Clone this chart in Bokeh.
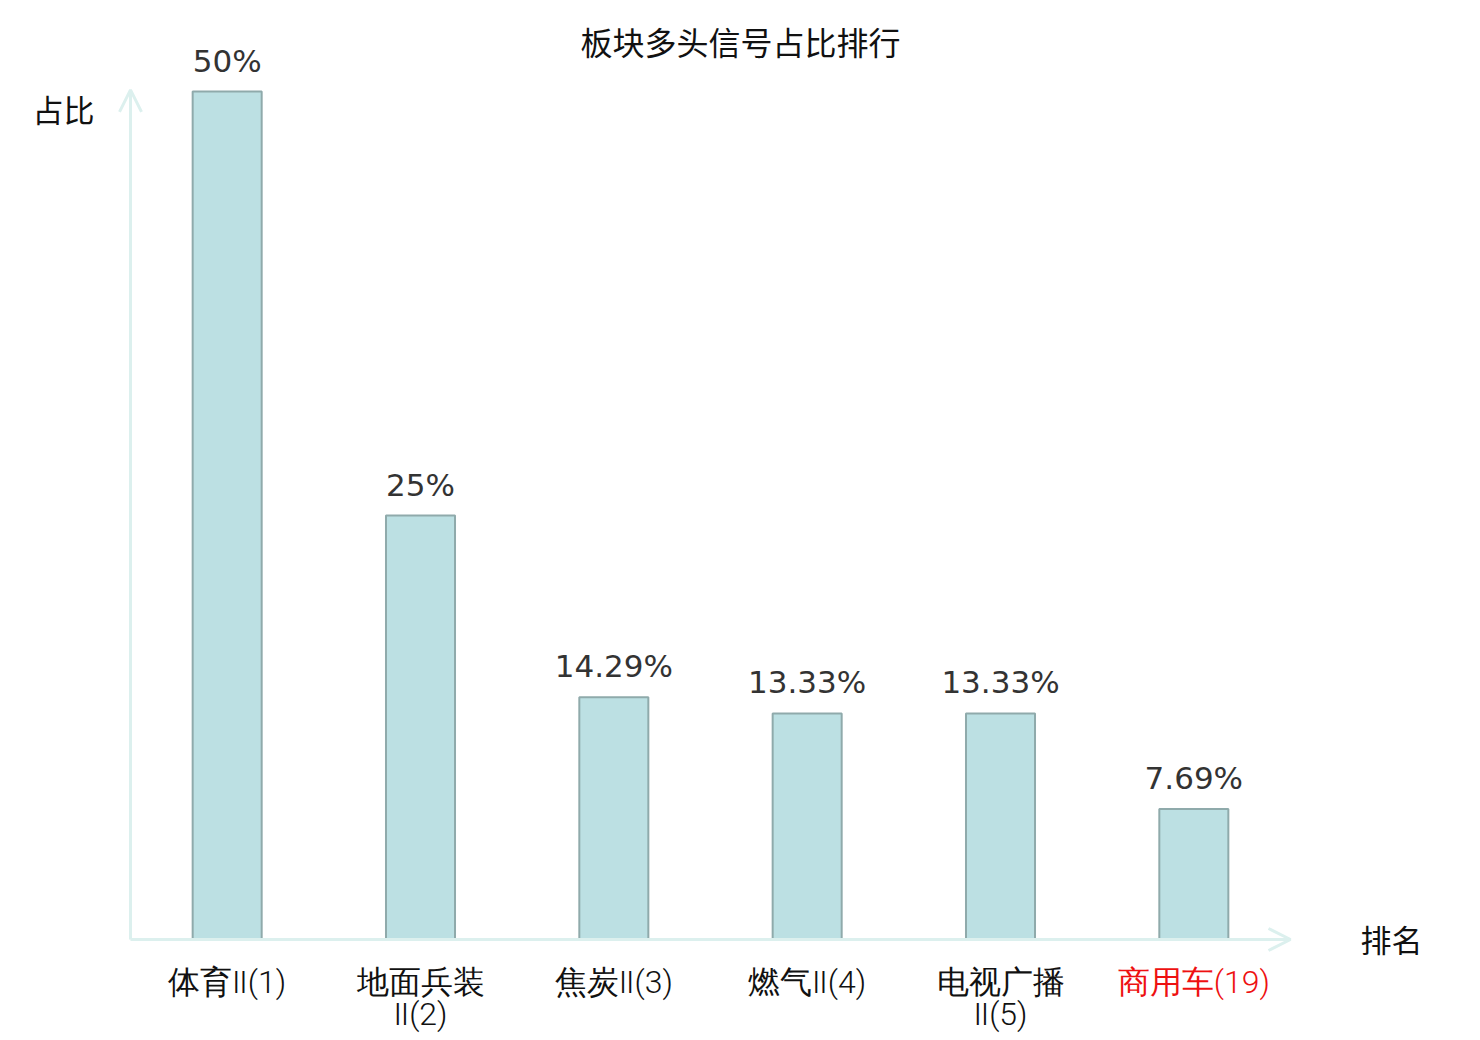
from bokeh.plotting import figure
from bokeh.models import Range1d, Arrow, OpenHead, ColumnDataSource
from bokeh.core.properties import value
from bokeh.embed import file_html
from bokeh.resources import INLINE

# ---- data ----
categories = ["体育Ⅱ(1)", "地面兵装\nⅡ(2)", "焦炭Ⅱ(3)", "燃气Ⅱ(4)", "电视广播\nⅡ(5)", "商用车(19)"]
shares = [50.0, 25.0, 14.29, 13.33, 13.33, 7.69]
share_labels = ["50%", "25%", "14.29%", "13.33%", "13.33%", "7.69%"]
label_colors = ["#111111", "#111111", "#111111", "#111111", "#111111", "#ee1111"]
title_text = "板块多头信号占比排行"
y_name = "占比"
x_name = "排名"

W, H = 1478, 1038
# pixel geometry of the plot area inside the canvas
x0_px, x1_px = 130, 1290       # x axis from 0 .. n categories
y0_px, y50_px = 939, 91        # y=0 and y=50
n = len(categories)
sx = (x1_px - x0_px) / n
sy = (y0_px - y50_px) / 50.0

x_range = Range1d(-x0_px / sx, (W - x0_px) / sx)
y_range = Range1d(-(H - y0_px) / sy, y0_px / sy)

p = figure(width=W, height=H, x_range=x_range, y_range=y_range,
           output_backend="svg", toolbar_location=None,
           min_border=0, min_border_left=0, min_border_right=0,
           min_border_top=0, min_border_bottom=0)
p.axis.visible = False
p.grid.visible = False
p.outline_line_color = None
p.background_fill_color = "white"
p.border_fill_color = "white"

xs = [i + 0.5 for i in range(n)]
line1 = [c.split("\n")[0] for c in categories]
line2 = [c.split("\n")[1] if "\n" in c else "" for c in categories]
src = ColumnDataSource(dict(x=xs, top=shares, lab=share_labels,
                            l1=line1, l2=line2, col=label_colors))

axis_col = "#dcf0ee"
# axes with arrows
p.add_layout(Arrow(end=OpenHead(size=22, line_color=axis_col, line_width=3),
                   x_start=0, y_start=0, x_end=n, y_end=0,
                   line_color=axis_col, line_width=3))
p.add_layout(Arrow(end=OpenHead(size=22, line_color=axis_col, line_width=3),
                   x_start=0, y_start=0, x_end=0, y_end=50.1,
                   line_color=axis_col, line_width=3))

p.vbar(x="x", top="top", bottom=0, width=0.357, source=src,
       fill_color="#bce0e3", line_color="#8faaab", line_width=2)

p.text(x="x", y="top", text="lab", source=src, y_offset=-31,
       text_align="center", text_baseline="alphabetic",
       text_font=value("DejaVu Sans"), text_font_size="31px", text_color="#333333")

p.text(x="x", y=0, text="l1", source=src, y_offset=42,
       text_align="center", text_baseline="middle",
       text_font=value("Roboto Light"), text_font_size="32px", text_color="col")
p.text(x="x", y=0, text="l2", source=src, y_offset=74,
       text_align="center", text_baseline="middle",
       text_font=value("Roboto Light"), text_font_size="32px", text_color="col")

p.text(x=[(740 - x0_px) / sx], y=[y_range.end], text=[title_text], y_offset=40,
       text_align="center", text_baseline="middle",
       text_font=value("Noto Sans CJK SC"), text_font_size="32px", text_color="#111111")
p.text(x=[-67 / sx], y=[50], text=[y_name], y_offset=17,
       text_align="center", text_baseline="middle",
       text_font=value("Noto Sans CJK SC"), text_font_size="31px", text_color="#111111")
p.text(x=[n + 101 / sx], y=[0], text=[x_name], y_offset=-1,
       text_align="center", text_baseline="middle",
       text_font=value("Noto Sans CJK SC"), text_font_size="31px", text_color="#111111")

open("out.html", "w").write(file_html(p, INLINE))
